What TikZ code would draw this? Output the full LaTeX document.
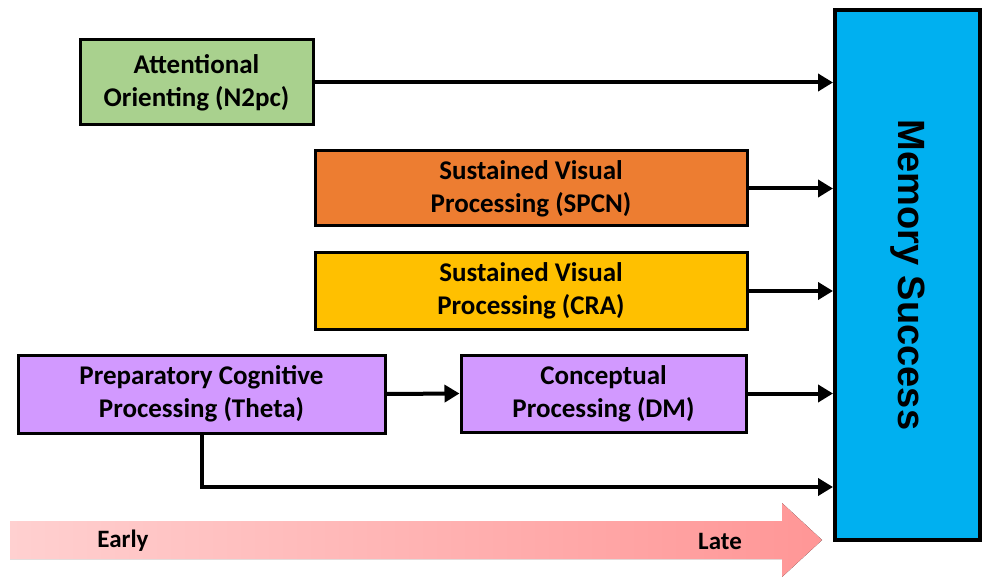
\documentclass[tikz,border=0pt]{standalone}
\usepackage{fontspec}
\setmainfont{Carlito}
\newfontfamily\memfont{Liberation Sans}
\usetikzlibrary{arrows.meta}

\definecolor{attgreen}{RGB}{169,209,142}
\definecolor{spcnorange}{RGB}{237,125,49}
\definecolor{cragold}{RGB}{255,192,0}
\definecolor{procpurple}{RGB}{210,153,255}
\definecolor{memblue}{RGB}{0,176,240}
\definecolor{earlypink}{RGB}{255,208,208}
\definecolor{latepink}{RGB}{255,150,150}

\tikzset{
  stagebox/.style={draw=black, line width=3pt, inner sep=0pt, align=center,
    font=\fontsize{27}{33}\selectfont\bfseries},
  flow/.style={->, line width=4pt}
}

\begin{document}
\begin{tikzpicture}[x=1pt, y=-1pt, >={Triangle[length=15pt, width=17pt]}]
  \useasboundingbox (0,0) rectangle (982,577);
  % zeitachse (frueh -> spaet)
  \fill[left color=earlypink, right color=latepink]
    (10,521) -- (782,521) -- (782,503) -- (822,540) -- (782,577) -- (782,559) -- (10,559) -- cycle;
  \node[font=\fontsize{25}{28}\selectfont\bfseries] (early) at (123,541) {Early};
  \node[font=\fontsize{25}{28}\selectfont\bfseries] (late) at (720,541) {Late};
  % gedaechtniserfolg
  \node[draw=black, line width=4pt, fill=memblue, minimum width=145pt, minimum height=530pt,
        inner sep=0pt] (mem) at (907.5,275) {};
  \node[rotate=-90, font=\fontsize{38}{40}\selectfont\memfont\bfseries] at (mem.center) {Memory Success};
  % verarbeitungsstufen
  \node[stagebox, fill=attgreen, minimum width=233pt, minimum height=85pt] (att) at (196.5,82.5)
    {Attentional\\Orienting (N2pc)};
  \node[stagebox, fill=spcnorange, minimum width=432pt, minimum height=75pt] (spcn) at (531,188.5)
    {Sustained Visual\\Processing (SPCN)};
  \node[stagebox, fill=cragold, minimum width=432pt, minimum height=76pt] (cra) at (531,291)
    {Sustained Visual\\Processing (CRA)};
  \node[stagebox, fill=procpurple, minimum width=367pt, minimum height=78pt] (theta) at (201.5,394)
    {Preparatory Cognitive\\Processing (Theta)};
  \node[stagebox, fill=procpurple, minimum width=285pt, minimum height=77pt] (dm) at (603.5,393.5)
    {Conceptual\\Processing (DM)};
  % pfeile
  \draw[flow] (att.east) -- (mem.west |- att.east);
  \draw[flow] (spcn.east) -- (mem.west |- spcn.east);
  \draw[flow] (cra.east) -- (mem.west |- cra.east);
  \draw[flow] (dm.east) -- (mem.west |- dm.east);
  \draw[flow] (theta.east) -- (dm.west);
  \draw[flow] (theta.south) |- (mem.west |- 0,487);
\end{tikzpicture}
\end{document}
